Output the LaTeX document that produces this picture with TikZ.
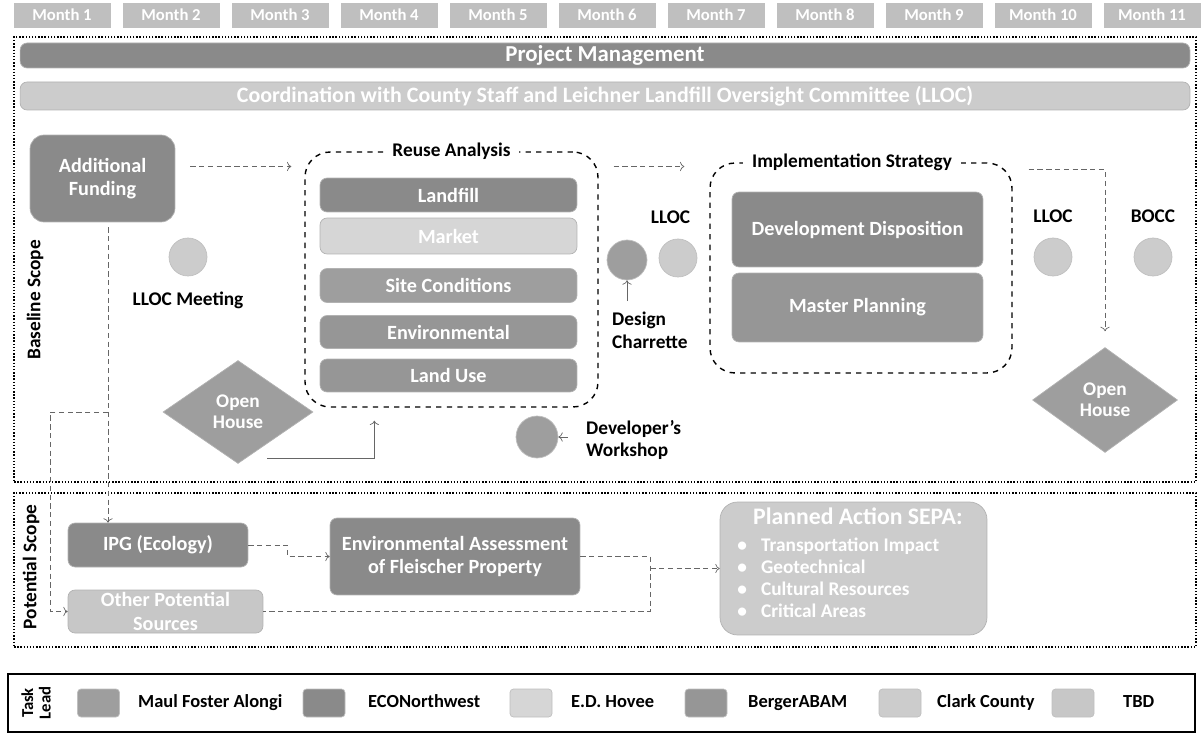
\documentclass[tikz,border=0pt]{standalone}
\usepackage{fontspec}
\setmainfont{Carlito}
\usepackage{tikz}
\usetikzlibrary{positioning}
\usetikzlibrary{shapes.geometric}
\usetikzlibrary{arrows.meta}
\usepackage{xcolor}

\definecolor{mfa}{gray}{0.62}
\definecolor{eco}{gray}{0.54}
\definecolor{edh}{gray}{0.84}
\definecolor{bab}{gray}{0.59}
\definecolor{clark}{gray}{0.80}
\definecolor{tbd}{gray}{0.78}

\begin{document}
\begin{tikzpicture}[x=0.02cm, y=-0.02cm,
    bar/.style={rectangle, rounded corners=4pt, fill=#1, draw=black!30, text=white, align=center, inner sep=0pt, font=\bfseries\fontsize{11.5}{13.5}\selectfont},
    month/.style={rectangle, fill=gray!50, draw=black!25, text=white, minimum width=1.92cm, minimum height=0.48cm, font=\bfseries\fontsize{9.5}{10}\selectfont},
    dot/.style={circle, fill=#1, draw=black!25, minimum size=0.76cm, inner sep=0pt},
    house/.style={diamond, fill=mfa, draw=black!30, text=white, align=center, inner sep=0pt, minimum width=3cm, minimum height=2.06cm, font=\bfseries\fontsize{11}{12}\selectfont},
    group/.style={draw, thick, dashed, rounded corners=0.5cm},
    scopebox/.style={draw, densely dotted, line width=0.8pt},
    lbl/.style={text=black, font=\bfseries\fontsize{11}{13}\selectfont},
    swatch/.style={rectangle, rounded corners=2pt, fill=#1, draw=black!25, minimum width=0.84cm, minimum height=0.56cm},
    conn/.style={draw=black!60, thin, densely dashed, ->}]
    \useasboundingbox (0,0) rectangle (1202,736);

    % months
    \foreach \i in {1,...,11}
        \node[month] (m\i) at ({62+109*(\i-1)},15) {Month \i};

    % scopes
    \node[scopebox, minimum width=23.64cm, minimum height=8.9cm] (baseline) at (605,259.5) {};
    \node[scopebox, minimum width=23.64cm, minimum height=3.08cm] (potential) at (605,570) {};
    \node[lbl, rotate=90] (baselbl) at (35,300) {Baseline Scope};
    \node[lbl, rotate=90] (potlbl) at (31,567) {Potential Scope};

    % management bars
    \node[bar=eco, minimum width=23.4cm, minimum height=0.5cm, font=\bfseries\fontsize{13}{15}\selectfont] (pm) at (605,55.5) {Project Management};
    \node[bar=clark, minimum width=23.4cm, minimum height=0.56cm, font=\bfseries\fontsize{12.5}{14}\selectfont] (coord) at (605,96) {Coordination with County Staff and Leichner Landfill Oversight Committee (LLOC)};

    \node[bar=eco, minimum width=2.9cm, minimum height=1.74cm, rounded corners=8pt] (fund) at (102.5,178.5) {Additional\\Funding};

    % reuse analysis
    \node[group, minimum width=5.86cm, minimum height=5.1cm] (reuse) at (451.5,279.5) {};
    \node[lbl, fill=white, inner xsep=5pt] (reuselbl) at (reuse.north) {Reuse Analysis};
    \node[bar=eco, minimum width=5.14cm, minimum height=0.68cm] (landfill) at (448.5,195) {Landfill};
    \node[bar=edh, minimum width=5.14cm, minimum height=0.72cm] (market) at (448.5,236) {Market};
    \node[bar=mfa, minimum width=5.14cm, minimum height=0.68cm] (site) at (448.5,285.5) {Site Conditions};
    \node[bar=bab, minimum width=5.14cm, minimum height=0.66cm] (env) at (448.5,332) {Environmental};
    \node[bar=bab, minimum width=5.14cm, minimum height=0.66cm] (landuse) at (448.5,375.5) {Land Use};

    % implementation strategy
    \node[group, minimum width=6.04cm, minimum height=4.2cm] (impl) at (861,268) {};
    \node[lbl, fill=white, inner xsep=5pt] (impllbl) at (852,162) {Implementation Strategy};
    \node[bar=eco, minimum width=5.02cm, minimum height=1.5cm] (devdisp) at (857.5,229.5) {Development Disposition};
    \node[bar=bab, minimum width=5.02cm, minimum height=1.38cm] (master) at (857.5,307.5) {Master Planning};

    % meetings
    \node[dot=clark] (lloc1) at (188,257) {};
    \node[lbl, below=0.18cm of lloc1] (lloc1lbl) {LLOC Meeting};
    \node[dot=mfa, minimum size=0.8cm] (charrette) at (627,260) {};
    \node[lbl, align=left, anchor=north west] (charrettelbl) at (606,306) {Design\\Charrette};
    \node[dot=clark] (lloc2) at (678,258) {};
    \node[lbl, above=0.18cm of lloc2, xshift=-0.15cm] (lloc2lbl) {LLOC};
    \node[dot=mfa, minimum size=0.84cm] (workshop) at (537,437) {};
    \node[lbl, align=left, anchor=west] (workshoplbl) at (580,440) {Developer's\\Workshop};
    \node[dot=clark] (lloc3) at (1053,257) {};
    \node[lbl, above=0.18cm of lloc3] (lloc3lbl) {LLOC};
    \node[dot=clark] (bocc) at (1153,257) {};
    \node[lbl, above=0.18cm of bocc] (bocclbl) {BOCC};

    \node[house] (open1) at (238,412) {Open\\House};
    \node[house, minimum width=2.9cm, minimum height=2.1cm] (open2) at (1105,400) {Open\\House};

    % potential scope
    \node[bar=eco, minimum width=3.6cm, minimum height=0.88cm] (ipg) at (158,545) {IPG (Ecology)};
    \node[bar=tbd, minimum width=3.9cm, minimum height=0.86cm] (other) at (165.5,611.5) {Other Potential\\Sources};
    \node[bar=eco, minimum width=5cm, minimum height=1.54cm] (ea) at (455,556.5) {Environmental Assessment\\of Fleischer Property};
    \node[bar=clark, minimum width=5.34cm, minimum height=2.66cm, rounded corners=10pt] (sepa) at (853.5,568.5) {};
    \node[anchor=north west, align=left, text=white, inner sep=0pt, font=\bfseries\fontsize{11}{12.5}\selectfont] (sepatxt) at (737,507) {{\fontsize{13.5}{16}\selectfont\hspace*{9pt}Planned Action SEPA:}\\[3pt]
        \textbullet\hspace{8pt}Transportation Impact\\
        \textbullet\hspace{8pt}Geotechnical\\
        \textbullet\hspace{8pt}Cultural Resources\\
        \textbullet\hspace{8pt}Critical Areas};

    % connectors
    \coordinate (fundout) at ([shift={(15,-12)}]fund.east);
    \draw[conn, shorten >=0.26cm] (fundout) -- (fundout -| reuse.west);
    \draw[conn, shorten <=0.3cm, shorten >=0.5cm] (reuse.east |- fundout) -- (impl.west |- fundout);
    \coordinate (implout) at ([shift={(16,7)}]impl.north east);
    \draw[conn, shorten >=0.32cm] (implout) -| (open2.north);
    \coordinate (houseout) at ([shift={(29,-5)}]open1.south);
    \coordinate (reusein) at ([shift={(70,0)}]reuse.south west);
    \draw[conn, solid, shorten >=0.26cm] (houseout) -| (reusein);
    \draw[conn, solid, shorten <=0.1cm] (charrettelbl.north -| charrette) -- (charrette.south);
    \draw[conn, solid, shorten <=0.25cm] (workshoplbl.west |- workshop) -- (workshop.east);

    \coordinate (fundout2) at ([shift={(5.5,0)}]fund.south);
    \draw[conn, shorten <=0.1cm] (fundout2) -- (fundout2 |- ipg.north);
    \coordinate (split) at (fundout2 |- open1);
    \draw[conn] (split) -- ++(-58,0) |- (other.west);
    \draw[conn] (ipg.east) -- ++(39,0) |- (ea.west);
    \coordinate (join) at ([shift={(70,0)}]ea.east);
    \draw[conn, -] (ea.east) -- (join) |- (other.east);
    \draw[conn] (join |- sepa.west) -- (sepa.west);

    % legend
    \node[draw, line width=0.8pt, minimum width=23.74cm, minimum height=1.16cm] (legend) at (601.5,703) {};
    \node[lbl, rotate=90, align=center, font=\bfseries\fontsize{9.5}{10}\selectfont] (tasklead) at (36,703) {Task\\Lead};
    \foreach \c/\x/\t/\tx in {mfa/98.5/Maul Foster Alongi/132, eco/324/ECONorthwest/362, edh/531/E.D. Hovee/565, bab/706/BergerABAM/742, clark/900/Clark County/931, tbd/1073/TBD/1117} {
        \node[swatch=\c] (sw\c) at (\x,703) {};
        \node[lbl, anchor=west, text height=8pt, text depth=2.5pt, font=\bfseries\fontsize{10.5}{12}\selectfont] (lg\c) at (\tx,703) {\t};
    }
\end{tikzpicture}
\end{document}
